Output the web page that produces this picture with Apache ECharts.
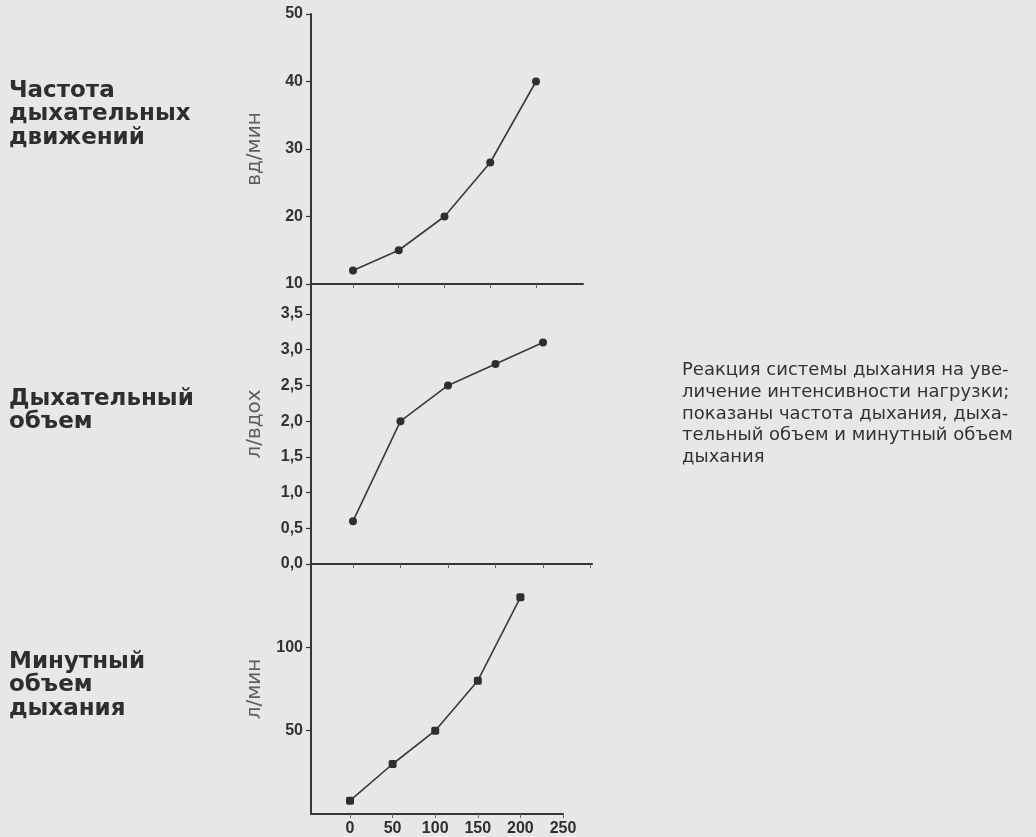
<!DOCTYPE html>
<html>
<head>
<meta charset="utf-8">
<script src="https://cdn.jsdelivr.net/npm/echarts@6/dist/echarts.min.js"></script>
<style>
  html, body { margin: 0; padding: 0; background: #e7e7e7; }
  #chart { width: 1036px; height: 837px; }
</style>
</head>
<body>
<div id="chart"></div>
<script>
// Workload steps (x) shared by the three stacked panels
const loads = [0, 50, 100, 150, 200];
const loadTicks = [0, 50, 100, 150, 200, 250];

// Breathing frequency, breaths per minute
const breathRate = [12, 15, 20, 28, 40];
const rateTicks = [10, 20, 30, 40, 50];

// Tidal volume, litres per breath
const tidalVolume = [0.6, 2.0, 2.5, 2.8, 3.1];
const volumeTicks = [0, 0.5, 1.0, 1.5, 2.0, 2.5, 3.0, 3.5];

// Minute ventilation, litres per minute
const minuteVolume = [8, 30, 50, 80, 130];
const minuteTicks = [50, 100];

// Panel titles and caption
const panelTitles = [
  ['Частота', 'дыхательных', 'движений'],
  ['Дыхательный', 'объем'],
  ['Минутный', 'объем', 'дыхания']
];
const axisNames = ['вд/мин', 'л/вдох', 'л/мин'];
const caption = [
  'Реакция системы дыхания на уве-',
  'личение интенсивности нагрузки;',
  'показаны частота дыхания, дыха-',
  'тельный объем и минутный объем',
  'дыхания'
];

const ink = '#363636';
const pairs = (ys) => loads.map((x, i) => [x, ys[i]]);

const yAxisBase = (gridIndex, name, min, max, ticks, fmt) => ({
  type: 'value', gridIndex, min, max,
  name, nameLocation: 'middle', nameGap: 46,
  nameTextStyle: { fontFamily: 'DejaVu Sans', fontSize: 20, color: '#5e5e5e' },
  axisLine: { show: true, onZero: false, lineStyle: { color: ink, width: 2 } },
  axisTick: { show: true, length: 5, customValues: ticks, lineStyle: { color: ink, width: 1.2 } },
  axisLabel: {
    customValues: ticks, margin: 8, fontFamily: 'Liberation Sans', fontWeight: 'bold',
    fontSize: 16, color: '#333', formatter: fmt
  },
  splitLine: { show: false }
});

const xAxisBase = (gridIndex, min, max, ticks, showLabels) => ({
  type: 'value', gridIndex, min, max,
  axisLine: { show: true, onZero: false, lineStyle: { color: ink, width: 2 } },
  axisTick: { show: true, length: 4, customValues: ticks, lineStyle: { color: '#666', width: 1 } },
  axisLabel: {
    show: showLabels, customValues: ticks, margin: 7, fontFamily: 'Liberation Sans',
    fontWeight: 'bold', fontSize: 16, color: '#2e2e2e'
  },
  splitLine: { show: false }
});

const lineSeries = (idx, data, symbol) => ({
  type: 'line', xAxisIndex: idx, yAxisIndex: idx, data,
  symbol, symbolSize: 8, silent: true, animation: false,
  lineStyle: { color: '#3a3a3a', width: 1.6 },
  itemStyle: { color: '#2f2f2f' }
});

const textBlock = (lines, left, top, font, lineHeight, color) => ({
  type: 'text', left, top,
  style: { text: lines.join('\n'), font, lineHeight, fill: color }
});

const chart = echarts.init(document.getElementById('chart'), null, { renderer: 'canvas' });
chart.setOption({
  backgroundColor: '#e7e7e7',
  animation: false,
  grid: [
    { left: 311, top: 14, width: 272, height: 270 },
    { left: 311, top: 284, width: 281, height: 280 },
    { left: 311, top: 564, width: 252, height: 251 }
  ],
  xAxis: [
    xAxisBase(0, -45.9, 251.4, loads, false),
    xAxisBase(1, -44.2, 251.6, loadTicks, false),
    xAxisBase(2, -45.8, 250, loadTicks, true)
  ],
  yAxis: [
    yAxisBase(0, axisNames[0], 10, 50, rateTicks, (v) => String(v)),
    yAxisBase(1, axisNames[1], 0, 3.92, volumeTicks, (v) => v.toFixed(1).replace('.', ',')),
    yAxisBase(2, axisNames[2], 0, 150, minuteTicks, (v) => String(v))
  ],
  series: [
    lineSeries(0, pairs(breathRate), 'circle'),
    lineSeries(1, pairs(tidalVolume), 'circle'),
    lineSeries(2, pairs(minuteVolume), 'roundRect')
  ],
  graphic: [
    textBlock(panelTitles[0], 9, 79, 'bold 23px "DejaVu Sans"', 23.5, '#2e2e2e'),
    textBlock(panelTitles[1], 9, 387, 'bold 23px "DejaVu Sans"', 23.5, '#2e2e2e'),
    textBlock(panelTitles[2], 9, 650, 'bold 23px "DejaVu Sans"', 23.5, '#2e2e2e'),
    textBlock(caption, 682, 360, '18px "DejaVu Sans"', 21.6, '#333')
  ]
});
</script>
</body>
</html>
